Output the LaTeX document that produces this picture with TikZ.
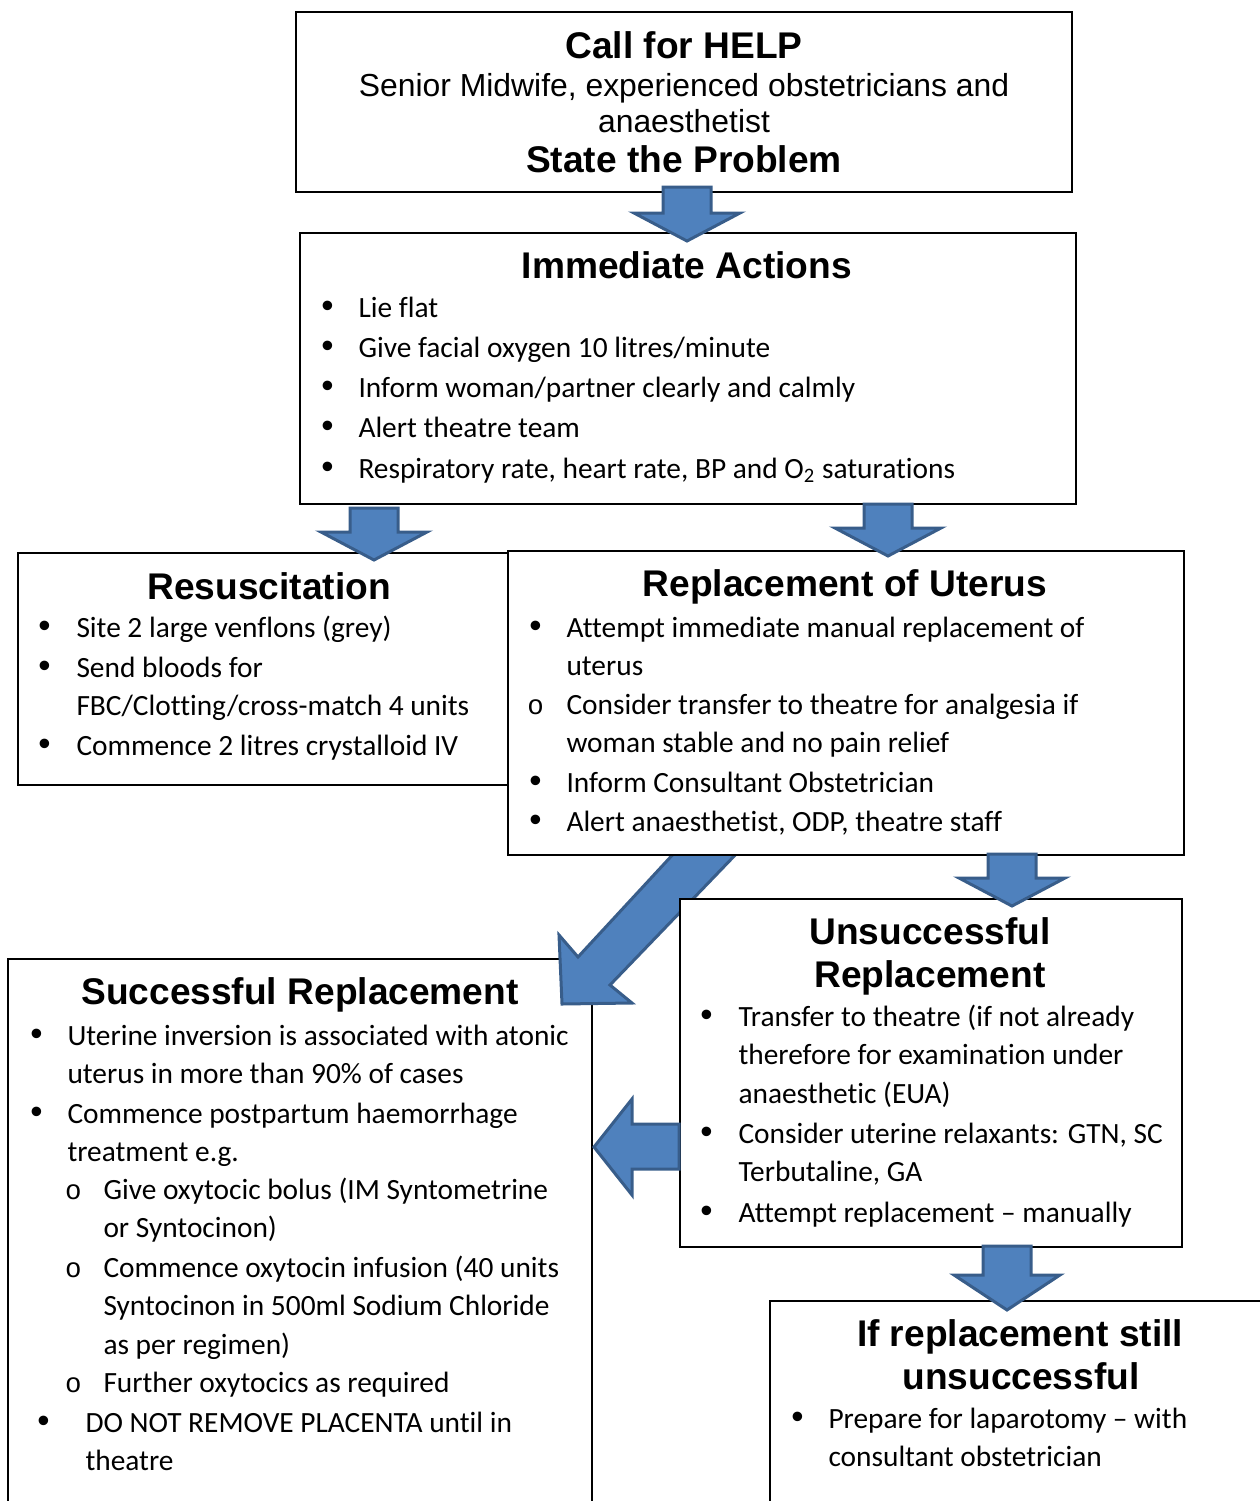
\documentclass[tikz,border=0pt]{standalone}
\usepackage{fontspec}
\setmainfont{Carlito}[Ligatures=NoCommon]
\newfontfamily\arialfont{Liberation Sans}
\newfontfamily\courierfont{Liberation Mono}
\usetikzlibrary{fit}
\newlength\px \setlength\px{0.4pt}
\definecolor{arrowfill}{HTML}{4F81BD}
\definecolor{arrowline}{HTML}{385D8A}
% bullets hanging left of the text start
\newcommand{\bul}[1][31]{\llap{\makebox[0pt]{\arialfont\fontsize{14pt}{14pt}\selectfont •}\hspace{#1\px}}\ignorespaces}
\newcommand{\hol}[1][31]{\llap{\makebox[0pt]{\courierfont\fontsize{11pt}{11pt}\selectfont o}\hspace{#1\px}}\ignorespaces}
\newcommand{\lines}[1]{\parbox[t]{600\px}{\raggedright\leavevmode #1}}
\begin{document}
\begin{tikzpicture}[x=0.4pt, y=-0.4pt,
  box/.style = {draw, line width=0.7pt, inner sep=0pt, fill=white},
  head/.style = {anchor=base, inner sep=0pt, font=\arialfont\bfseries\fontsize{14.85pt}{18pt}\selectfont},
  sub/.style = {anchor=base, inner sep=0pt, font=\arialfont\fontsize{12.75pt}{15pt}\selectfont},
  item/.style = {anchor=base west, inner sep=0pt, font=\fontsize{11.75pt}{15.4pt}\selectfont},
  blockarrow/.style = {fill=arrowfill, draw=arrowline, line width=1.2pt, line join=miter}]
\useasboundingbox (0,0) rectangle (1260,1501);

% boxes
\node[box, fit={(296,12) (1072,192)}] (help) {};
\node[box, fit={(300,233) (1076,504)}] (actions) {};
\node[box, fit={(18,553) (508,785)}] (resus) {};
\node[box, fit={(8,959) (592,1520)}] (success) {};
% diagonal arrow, partly under the boxes drawn next
\draw[blockarrow] (677,850) -- (740,850) -- (610,985) -- (632,1003) -- (562,1004) -- (559,935) -- (578,957) -- cycle;
\node[box, fit={(508,551) (1184,855)}] (replace) {};
\node[box, fit={(680,899) (1182,1247)}] (fail) {};
\node[box, fit={(770,1301) (1280,1520)}] (still) {};

% call for help
\node[head] (helph) at (684,58) {Call for HELP};
\node[sub] (helps1) at (684,96) {Senior Midwife, experienced obstetricians and};
\node[sub] (helps2) at (684,132) {anaesthetist};
\node[head] (helpp) at (684,172) {State the Problem};

% immediate actions
\node[head] (actionsh) at (687,278) {Immediate Actions};
\node[item] (act1) at (358,317) {\lines{\bul Lie flat}};
\node[item] (act2) at (358,357) {\lines{\bul Give facial oxygen 10 litres/minute}};
\node[item] (act3) at (358,397) {\lines{\bul Inform woman/partner clearly and calmly}};
\node[item] (act4) at (358,437) {\lines{\bul Alert theatre team}};
\node[item] (act5) at (358,478) {\lines{\bul Respiratory rate, heart rate, BP and O\textsubscript{2} saturations}};

% resuscitation
\node[head] (resush) at (269,599) {Resuscitation};
\node[item] (res1) at (76,637) {\lines{\bul[32] Site 2 large venflons (grey)}};
\node[item] (res2) at (76,677) {\lines{\bul[32] Send bloods for\\FBC/Clotting/cross-match 4 units}};
\node[item] (res3) at (76,755) {\lines{\bul[32] Commence 2 litres crystalloid IV}};

% replacement of uterus
\node[head] (replaceh) at (845,596) {Replacement of Uterus};
\node[item] (rep1) at (566,637) {\lines{\bul Attempt immediate manual replacement of\\uterus}};
\node[item] (rep2) at (566,714) {\lines{\hol Consider transfer to theatre for analgesia if\\woman stable and no pain relief}};
\node[item] (rep3) at (566,792) {\lines{\bul Inform Consultant Obstetrician}};
\node[item] (rep4) at (566,831) {\lines{\bul Alert anaesthetist, ODP, theatre staff}};

% unsuccessful replacement
\node[head] (failh1) at (930,944) {Unsuccessful};
\node[head] (failh2) at (930,987) {Replacement};
\node[item] (fail1) at (738,1026) {\lines{\bul[32] Transfer to theatre (if not already\\therefore for examination under\\anaesthetic (EUA)}};
\node[item] (fail2) at (738,1143) {\lines{\bul[32] Consider uterine relaxants: GTN, SC\\Terbutaline, GA}};
\node[item] (fail3) at (738,1222) {\lines{\bul[32] Attempt replacement – manually}};

% successful replacement
\node[head] (successh) at (300,1004) {Successful Replacement};
\node[item] (suc1) at (67,1045) {\lines{\bul Uterine inversion is associated with atonic\\uterus in more than 90\% of cases}};
\node[item] (suc2) at (67,1123) {\lines{\bul Commence postpartum haemorrhage\\treatment e.g.}};
\node[item] (suc3) at (103,1199) {\lines{\hol[30] Give oxytocic bolus (IM Syntometrine\\or Syntocinon)}};
\node[item] (suc4) at (103,1277) {\lines{\hol[30] Commence oxytocin infusion (40 units\\Syntocinon in 500ml Sodium Chloride\\as per regimen)}};
\node[item] (suc5) at (103,1392) {\lines{\hol[30] Further oxytocics as required}};
\node[item] (suc6) at (85,1432) {\lines{\bul[42] DO NOT REMOVE PLACENTA until in\\theatre}};

% if replacement still unsuccessful
\node[head] (stillh1) at (1020,1346) {If replacement still};
\node[head] (stillh2) at (1021,1389) {unsuccessful};
\node[item] (still1) at (828,1428) {\lines{\bul Prepare for laparotomy – with\\consultant obstetrician}};

% down arrows between boxes
\foreach \cx/\ytop/\yhead/\ytip in {687/187/213/241, 374/508/532/560, 888/504/528/556, 1012/854/878/906, 1007/1246/1275/1310}
  \draw[blockarrow] (\cx-24,\ytop) -- (\cx+24,\ytop) -- (\cx+24,\yhead) -- (\cx+53,\yhead)
    -- (\cx,\ytip) -- (\cx-53,\yhead) -- (\cx-24,\yhead) -- cycle;
% arrow back to successful replacement
\draw[blockarrow] (679,1124) -- (632,1124) -- (632,1099) -- (594,1147) -- (632,1195) -- (632,1169) -- (679,1169) -- cycle;
\end{tikzpicture}
\end{document}
